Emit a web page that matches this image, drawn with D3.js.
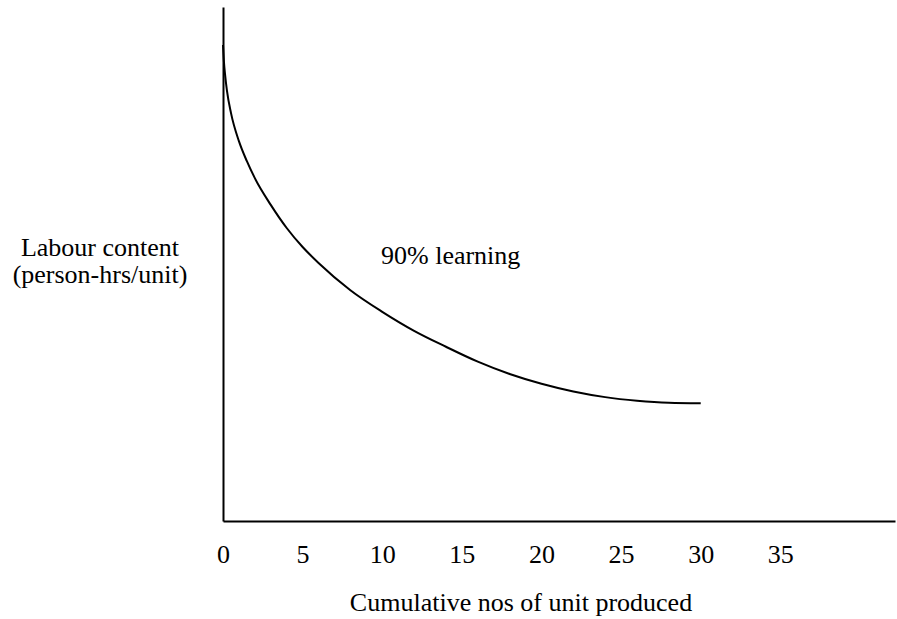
<!DOCTYPE html>
<html>
<head>
<meta charset="utf-8">
<script src="https://cdn.jsdelivr.net/npm/d3@7"></script>
<style>
  html, body { margin: 0; padding: 0; background: #fff; }
  text { font-family: "Liberation Serif", "Times New Roman", "DejaVu Serif", serif; fill: #000; }
</style>
</head>
<body>
<svg id="chart" width="897" height="619"></svg>
<script>
// ---- data ----
const unitsProduced = [0, 0.06, 0.125, 0.25, 0.5, 1, 1.5, 2, 3, 4, 5, 6, 8, 10, 12, 14, 16, 18, 20, 22, 24, 26, 28, 30];
const labourContent = [92.6, 89.3, 87.0, 83.7, 79.4, 73.9, 70.0, 66.7, 61.5, 57.0, 53.3, 50.2, 44.9, 40.7, 37.0, 33.9, 31.0, 28.6, 26.7, 25.2, 24.1, 23.4, 23.0, 22.9];
const xTickValues = [0, 5, 10, 15, 20, 25, 30, 35];
const xMax = 42.2;
const yMax = 100;
const curveLabel = "90% learning";
const xTitle = "Cumulative nos of unit produced";
const yTitleLines = ["Labour content", "(person-hrs/unit)"];

// ---- layout ----
const svg = d3.select("#chart");
const x = d3.scaleLinear().domain([0, xMax]).range([223, 895]);
const y = d3.scaleLinear().domain([0, yMax]).range([521, 7]);
const fontSize = 26;
const serif = "'Liberation Serif', 'Times New Roman', serif";

// x axis
const xAxis = d3.axisBottom(x).tickValues(xTickValues).tickSize(0).tickPadding(24).tickSizeOuter(0);
const gx = svg.append("g").attr("transform", `translate(0,${y(0)})`).call(xAxis);
gx.attr("font-family", serif).attr("font-size", fontSize);
gx.select(".domain").attr("stroke", "#000").attr("stroke-width", 2);
gx.selectAll(".tick text").attr("font-size", fontSize).attr("font-family", serif).attr("fill", "#000");

// y axis (line only)
const yAxis = d3.axisLeft(y).tickValues([]).tickSize(0).tickSizeOuter(0);
const gy = svg.append("g").attr("transform", `translate(${x(0)},0)`).call(yAxis);
gy.select(".domain").attr("stroke", "#000").attr("stroke-width", 2);

// curve
const pts = unitsProduced.map((u, i) => [u, labourContent[i]]);
const line = d3.line().x(d => x(d[0])).y(d => y(d[1])).curve(d3.curveMonotoneX);
svg.append("path").datum(pts).attr("d", line)
  .attr("fill", "none").attr("stroke", "#000").attr("stroke-width", 2);

// curve label
svg.append("text").attr("x", 381).attr("y", 264).attr("font-size", fontSize).text(curveLabel);

// axis titles
svg.append("text").attr("x", 521).attr("y", 611).attr("text-anchor", "middle")
  .attr("font-size", fontSize).text(xTitle);
const yt = svg.append("text").attr("text-anchor", "middle").attr("font-size", fontSize);
yTitleLines.forEach((t, i) => {
  yt.append("tspan").attr("x", 100).attr("y", 256 + i * 27).text(t);
});
</script>
</body>
</html>
